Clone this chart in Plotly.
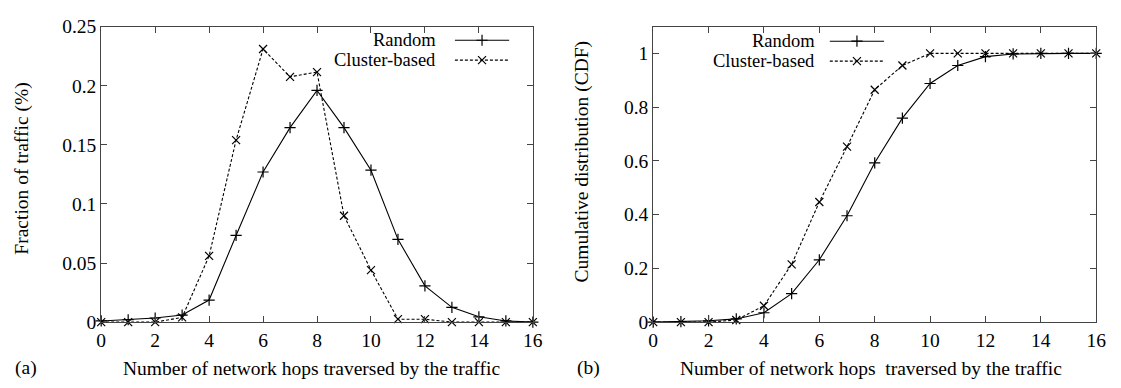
import plotly.graph_objects as go

hops = list(range(0, 17))

# (a) fraction of traffic per hop count
frac_random = [0.001, 0.002, 0.0035, 0.006, 0.0187, 0.0733, 0.127, 0.1645, 0.196,
               0.1645, 0.1285, 0.070, 0.0307, 0.0125, 0.0045, 0.001, 0.0]
frac_cluster = [0.0, 0.0, 0.0, 0.004, 0.056, 0.154, 0.231, 0.2075, 0.2115,
                0.090, 0.044, 0.0025, 0.0025, 0.0, 0.0, 0.0, 0.0]

# (b) cumulative distribution
cdf_random = [0.0, 0.002, 0.005, 0.012, 0.035, 0.106, 0.232, 0.396, 0.593,
              0.759, 0.888, 0.955, 0.988, 0.998, 1.0, 1.0, 1.0]
cdf_cluster = [0.0, 0.0, 0.0, 0.008, 0.061, 0.215, 0.447, 0.653, 0.865,
               0.955, 1.0, 1.0, 1.0, 1.0, 1.0, 1.0, 1.0]

series_names = ["Random", "Cluster-based"]
x_ticks = [0, 2, 4, 6, 8, 10, 12, 14, 16]
yticks_a = [0, 0.05, 0.1, 0.15, 0.2, 0.25]
yticks_b = [0, 0.2, 0.4, 0.6, 0.8, 1]

W, H = 1121, 388
FONT = "Liberation Serif, Times New Roman, serif"
FS = 19.5
LFS = 18.5
MS = 8

fig = go.Figure()

def add_series(x, y, xa, ya, dash, symbol):
    fig.add_trace(go.Scatter(
        x=x, y=y, xaxis=xa, yaxis=ya, mode="lines+markers",
        line=dict(color="black", width=1.1, dash=dash),
        marker=dict(symbol=symbol, size=MS, color="black",
                    line=dict(color="black", width=1.2)),
        cliponaxis=False, showlegend=False))

add_series(hops, frac_random, "x", "y", "solid", "cross-thin")
add_series(hops, frac_cluster, "x", "y", "3px,2px", "x-thin")
add_series(hops, cdf_random, "x2", "y2", "solid", "cross-thin")
add_series(hops, cdf_cluster, "x2", "y2", "3px,2px", "x-thin")

# legend samples on a hidden pixel-space axis covering the whole figure
legend_rows = [
    # (text_right_x, line_x0, line_x1, y, series index)
    (438, 456, 511, 32, 0), (438, 456, 511, 53, 1),
    (822, 836, 891, 33, 0), (822, 836, 891, 54, 1),
]
styles = [("solid", "cross-thin"), ("3px,2px", "x-thin")]
for tx, x0, x1, yy, k in legend_rows:
    dash, sym = styles[k]
    fig.add_trace(go.Scatter(
        x=[x0, (x0 + x1) / 2, x1], y=[yy, yy, yy], xaxis="x3", yaxis="y3",
        mode="lines", line=dict(color="black", width=1.1, dash=dash),
        showlegend=False, hoverinfo="skip"))
    fig.add_trace(go.Scatter(
        x=[(x0 + x1) / 2], y=[yy], xaxis="x3", yaxis="y3", mode="markers",
        marker=dict(symbol=sym, size=MS, color="black",
                    line=dict(color="black", width=1.2)),
        showlegend=False, hoverinfo="skip"))
    fig.add_annotation(x=tx, y=yy, xref="x3", yref="y3", text=series_names[k],
                       showarrow=False, xanchor="right", yanchor="middle",
                       borderpad=0,
                       font=dict(family=FONT, size=LFS, color="black"))

axis_common = dict(
    showline=True, linecolor="#444", linewidth=1, mirror="ticks",
    ticks="inside", ticklen=6, tickcolor="#444", tickwidth=1,
    showgrid=False, zeroline=False,
    tickfont=dict(family=FONT, size=FS, color="black"),
)

ydom = [1 - 330 / H, 1 - 17.5 / H]
fig.update_layout(
    width=W, height=H,
    margin=dict(l=0, r=0, t=0, b=0),
    paper_bgcolor="white", plot_bgcolor="rgba(0,0,0,0)",
    xaxis=dict(domain=[97.5 / W, 535 / W], range=[0, 16], tickvals=x_ticks,
               anchor="y", **axis_common),
    yaxis=dict(domain=ydom, range=[0, 0.25], tickvals=yticks_a,
               ticktext=[f"{v:g}" for v in yticks_a], anchor="x", **axis_common),
    xaxis2=dict(domain=[657 / W, 1106 / W], range=[0, 16], tickvals=x_ticks,
                anchor="y2", **axis_common),
    yaxis2=dict(domain=ydom, range=[0, 1.1], tickvals=yticks_b,
                ticktext=[f"{v:g}" for v in yticks_b], anchor="x2", **axis_common),
    xaxis3=dict(domain=[0, 1], range=[0, W], visible=False, anchor="y3"),
    yaxis3=dict(domain=[0, 1], range=[H, 0], visible=False, anchor="x3"),
)

def pix_text(x, y, text, angle=0, xanchor="center"):
    fig.add_annotation(x=x / W, y=1 - y / H, xref="paper", yref="paper",
                       text=text, showarrow=False, textangle=angle,
                       xanchor=xanchor, yanchor="middle",
                       font=dict(family=FONT, size=FS, color="black"))

pix_text(311, 379, "Number of network hops traversed by the traffic")
pix_text(878, 379, "Number of network hops &nbsp;traversed by the traffic")
pix_text(17, 168, "Fraction of traffic (%)", angle=-90)
pix_text(585, 160, "Cumulative distribution (CDF)", angle=-90)
pix_text(8, 379, "(a)", xanchor="left")
pix_text(578, 379, "(b)", xanchor="left")

fig.write_html("out.html")
